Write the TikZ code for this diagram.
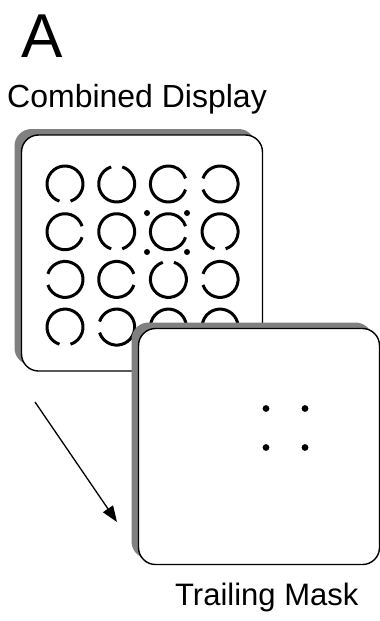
\documentclass[tikz,border=0pt]{standalone}
\usepackage{fontspec}
\setmainfont{Liberation Sans}
\usetikzlibrary{arrows.meta, shadows}
\definecolor{ShadowGray}{HTML}{808080}

\begin{document}
\begin{tikzpicture}[x=1pt, y=-1pt,
    panel/.style={draw=black, line width=1.4pt, fill=white, rounded corners=17pt,
      minimum width=241pt, minimum height=236pt, inner sep=0pt,
      drop shadow={shadow xshift=-7pt, shadow yshift=6pt, fill=ShadowGray, opacity=1}},
    ring/.style={line width=3pt},
    caption/.style={inner sep=0pt, anchor=base west, font=\fontsize{31}{31}\selectfont}]
  \useasboundingbox (0,0) rectangle (380,621);

  % combined display with the ring array
  \node[panel] (combined) at (142,253) {};
  \foreach \col/\row/\gap in {0/0/90, 1/0/270, 2/0/0, 3/0/180,
                              0/1/0, 1/1/90, 2/1/0, 3/1/90,
                              0/2/180, 1/2/0, 2/2/270, 3/2/180,
                              0/3/90, 1/3/180, 2/3/90, 3/3/90}
    \draw[ring] (65+51.7*\col,184+47.7*\row) ++(\gap+18:18)
      arc[start angle=\gap+18, delta angle=324, radius=18];
  \coordinate (target) at (167,232.5);
  \foreach \dx/\dy in {-1/-1, 1/-1, -1/1, 1/1}
    \fill (target) ++(20*\dx,19.5*\dy) circle[radius=3];

  % trailing mask
  \node[panel] (mask) at (259,446.5) {};
  \coordinate (maskdots) at (285.5,428);
  \foreach \dx/\dy in {-1/-1, 1/-1, -1/1, 1/1}
    \fill (maskdots) ++(19.5*\dx,19.5*\dy) circle[radius=3.4];

  % sequence arrow
  \coordinate (arrowstart) at (35,402);
  \coordinate (arrowend) at (117,522);
  \draw[line width=1.3pt, -{Triangle[length=16pt, width=12pt]}] (arrowstart) -- (arrowend);

  % labels
  \node[inner sep=0pt, anchor=base west, font=\fontsize{62}{62}\selectfont] (panelA) at (21,57) {A};
  \node[caption, font=\fontsize{32}{32}\selectfont] (combinedlabel) at (7,107) {Combined Display};
  \node[caption] (masklabel) at (175,605) {Trailing Mask};
\end{tikzpicture}
\end{document}
